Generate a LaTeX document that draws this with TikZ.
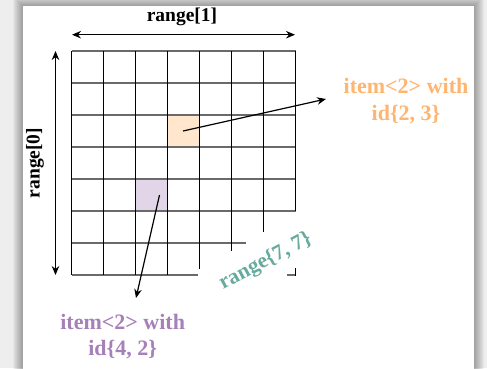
\documentclass[tikz,border=0pt]{standalone}
\usepackage{fontspec}
\setmainfont{Liberation Serif}
\usetikzlibrary{arrows.meta}
\definecolor{bgc}{HTML}{EEEEEE}
\definecolor{ofill}{HTML}{FFE6CC}
\definecolor{pfill}{HTML}{E1D5E7}
\definecolor{otext}{HTML}{FFB570}
\definecolor{ptext}{HTML}{A680B8}
\definecolor{ttext}{HTML}{67AB9F}
\definecolor{hline}{HTML}{6A6A6A}
\tikzset{
  vline/.style={black, line width=0.9pt},
  hgrid/.style={hline, line width=1.2pt},
  cellbox/.style={draw=none, minimum size=32pt, inner sep=0pt},
  arr/.style={black, line width=1.2pt, -{Stealth[length=9pt,width=7.5pt]}},
  dblarr/.style={black, line width=1.2pt, {Stealth[length=9pt,width=7.5pt]}-{Stealth[length=9pt,width=7.5pt]}},
  lbl/.style={font=\bfseries\fontsize{19.5}{22}\selectfont, inner sep=0pt},
  itemlbl/.style={font=\bfseries\fontsize{22}{27}\selectfont, inner sep=0pt, anchor=base},
}
\begin{document}
\begin{tikzpicture}[x=1pt,y=-1pt]
\useasboundingbox (0,0) rectangle (487,368);
\fill[bgc] (0,0) rectangle (487,368);
\foreach \i in {10,9,...,1}{
  \fill[black, opacity=0.035] (23-\i,6-\i) rectangle (474+\i,380);
}
\fill[white] (23,6) rectangle (474,380);

% highlighted cells
\node[cellbox, fill=ofill] (c23) at (183.5,131) {};
\node[cellbox, fill=pfill] (c42) at (151.5,195) {};

% horizontal grid lines
\foreach \y in {51,83,115,147,179,211}{
  \draw[hgrid] (71.5,\y) -- (295.5,\y);
}
\draw[hgrid] (71.5,243) -- (245.7,243);
\draw[hgrid] (71.5,275) -- (198,275);
\draw[hgrid] (287,275) -- (295.5,275);
% vertical grid lines
\foreach \x in {71.5,103.5,135.5,167.5}{
  \draw[vline] (\x,51) -- (\x,275);
}
\draw[vline] (199.5,51) -- (199.5,269);
\draw[vline] (231.5,51) -- (231.5,251);
\draw[vline] (263.5,51) -- (263.5,232);
\draw[vline] (295.5,51) -- (295.5,211);
\draw[vline] (295.5,268) -- (295.5,275.5);

% range labels and arrows
\coordinate (hl) at (72,34.7);
\coordinate (hr) at (295,34.7);
\draw[dblarr] (hl) -- (hr);
\node[lbl, anchor=base] (r1) at (182,21.5) {range[1]};
\coordinate (vt) at (55.5,51);
\coordinate (vb) at (55.5,275);
\draw[dblarr] (vt) -- (vb);
\node[lbl, rotate=90] (r0) at (35,163) {range[0]};

% range{7,7}
\node[font=\bfseries\fontsize{21.5}{24}\selectfont, text=ttext, rotate=28, anchor=base, inner sep=0pt] (r77) at (268,266) {range\{7, 7\}};

% orange item label
\node[itemlbl, text=otext] (o1) at (406,93) {item<2> with};
\node[itemlbl, text=otext] (o2) at (406,120) {id\{2, 3\}};
\coordinate (oa) at (183,131);
\coordinate (oe) at (326,99);
\draw[arr] (oa) -- (oe);

% purple item label
\node[itemlbl, text=ptext] (p1) at (122.7,329) {item<2> with};
\node[itemlbl, text=ptext] (p2) at (122.7,355) {id\{4, 2\}};
\coordinate (pa) at (159.5,195);
\coordinate (pe) at (136,298);
\draw[arr] (pa) -- (pe);
\end{tikzpicture}
\end{document}
